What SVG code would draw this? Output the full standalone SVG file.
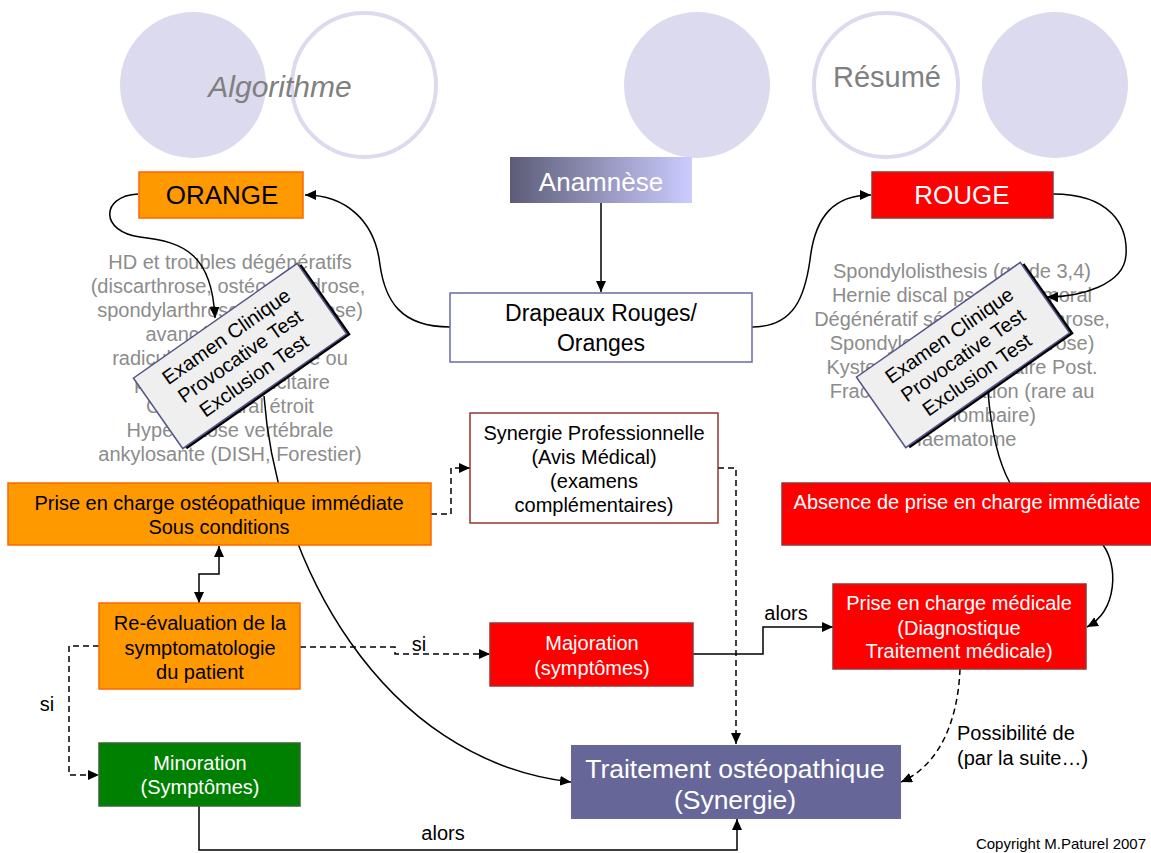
<svg xmlns="http://www.w3.org/2000/svg" width="1151" height="853" viewBox="0 0 1151 853">
<style>
text{font-family:"Liberation Sans",Arial,sans-serif}
.c{text-anchor:middle}
.w{fill:#ffffff}
.k{fill:#000000}
.g{fill:#8c8c8c;font-size:20px;text-anchor:middle}
.t20{font-size:20px}
.big{font-size:26.5px}
.ln{fill:none;stroke:#000;stroke-width:1.5}
.ds{fill:none;stroke:#000;stroke-width:1.5;stroke-dasharray:6 4}
.fill{fill:#dcdaee}
.ring{fill:none;stroke:#dcdaee;stroke-width:4}
.rot{fill:#efefef;stroke:#555588;stroke-width:1.5}
</style>
<defs>
<marker id="ah" markerUnits="userSpaceOnUse" markerWidth="12" markerHeight="10" refX="11" refY="5" orient="auto-start-reverse"><path d="M0,0 L11,5 L0,10 z" fill="#000"/></marker>
<linearGradient id="ana" x1="0" y1="0" x2="1" y2="0"><stop offset="0" stop-color="#5c5c78"/><stop offset="1" stop-color="#ccccff"/></linearGradient>
</defs>
<rect width="1151" height="853" fill="#fff"/>
<g id="decor">
<ellipse class="fill" cx="193" cy="85" rx="73" ry="73"/>
<ellipse class="ring" cx="364" cy="85" rx="72" ry="72"/>
<ellipse class="fill" cx="697" cy="85" rx="73" ry="73"/>
<ellipse class="ring" cx="886" cy="85" rx="72" ry="72"/>
<ellipse class="fill" cx="1055" cy="85" rx="73" ry="73"/>
<text x="280" y="97" class="c" style="font-size:30px;font-style:italic;fill:#808080">Algorithme</text>
<text x="887" y="87" class="c" style="font-size:29px;fill:#808080">Résumé</text>
</g>
<g id="orange-list">
<text class="g" x="230" y="269">HD et troubles dégénératifs</text>
<text class="g" x="228" y="293">(discarthrose, ostéochondrose,</text>
<text class="g" x="230" y="317">spondylarthrose, uncarthrose)</text>
<text class="g" x="230" y="341">avancés, instabilité</text>
<text class="g" x="230" y="365">radiculopathie sensitive ou</text>
<text class="g" x="232" y="389">parésie non déficitaire</text>
<text class="g" x="230" y="413">Canal central étroit</text>
<text class="g" x="230" y="437">Hyperostose vertébrale</text>
<text class="g" x="230" y="461">ankylosante (DISH, Forestier)</text>
</g>
<g id="rouge-list">
<text class="g" x="962" y="278">Spondylolisthesis (grade 3,4)</text>
<text class="g" x="962" y="302">Hernie discal pseudo-tumoral</text>
<text class="g" x="962" y="326">Dégénératif sévère (discarthrose,</text>
<text class="g" x="962" y="350">Spondylose, ostéochondrose)</text>
<text class="g" x="962" y="374">Kyste synovial articulaire Post.</text>
<text class="g" x="962" y="398">Fracture / Dislocation (rare au</text>
<text class="g" x="962" y="422">niveau lombaire)</text>
<text class="g" x="962" y="446">Haematome</text>
</g>
<g id="connectors">
<path class="ln" d="M601,203 V292" marker-end="url(#ah)"/>
<path class="ln" d="M450,327 C400,327 385,300 380,265 C375,220 345,195 305,195" marker-end="url(#ah)"/>
<path class="ln" d="M752,327 C795,327 805,295 810,260 C815,215 835,195 871,195" marker-end="url(#ah)"/>
<path class="ln" d="M138,194 C100,196 100,232 140,237 C185,242 212,255 215,318" marker-end="url(#ah)"/>
<path class="ln" d="M1053,194 C1110,194 1128,225 1126,255 C1124,285 1080,297 1047,297" marker-end="url(#ah)"/>
<path class="ln" d="M264,396 C276,560 380,760 571,782" marker-end="url(#ah)"/>
<path class="ln" d="M988,392 C992,440 1000,465 1010,483"/>
<path class="ln" d="M1103,545 C1118,565 1118,610 1087,627" marker-end="url(#ah)"/>
<path class="ln" d="M219,546 V574 H199 V603" marker-start="url(#ah)" marker-end="url(#ah)"/>
<path class="ds" d="M431,514 H451 V468 H470" marker-end="url(#ah)"/>
<path class="ds" d="M718,468 H736 V744" marker-end="url(#ah)"/>
<path class="ds" d="M300,647 H395 V654 H490" marker-end="url(#ah)"/>
<path class="ds" d="M99,646 H69 V775 H99" marker-end="url(#ah)"/>
<path class="ln" d="M693,654 H763 V627 H833" marker-end="url(#ah)"/>
<path class="ds" d="M960,669 C958,720 940,765 901,782" marker-end="url(#ah)"/>
<path class="ln" d="M199,806 V850 H737 V819" marker-end="url(#ah)"/>
<text class="k t20 c" x="419" y="651">si</text>
<text class="k t20 c" x="47" y="711">si</text>
<text class="k t20 c" x="786" y="620">alors</text>
<text class="k t20 c" x="443" y="840">alors</text>
<text class="k t20" x="957" y="740">Possibilité de</text>
<text class="k t20" x="957" y="765">(par la suite…)</text>
</g>
<g id="n-orange">
<rect x="139" y="172" width="164" height="46" fill="#ff9900" stroke="#ff6600" stroke-width="1.5"/>
<text class="k c" x="222" y="204" style="font-size:26px">ORANGE</text>
</g>
<g id="n-anamnese">
<rect x="510" y="157" width="182" height="46" fill="url(#ana)"/>
<text class="w c" x="601" y="191" style="font-size:26px">Anamnèse</text>
</g>
<g id="n-rouge">
<rect x="872" y="172" width="181" height="46" fill="#ff0000" stroke="#993333" stroke-width="1.5"/>
<text class="w c" x="962" y="204" style="font-size:26px">ROUGE</text>
</g>
<g id="n-drapeaux">
<rect x="450" y="293" width="302" height="69" fill="#fff" stroke="#6a6aa8" stroke-width="1.5"/>
<text class="k c" x="601" y="321" style="font-size:23px">Drapeaux Rouges/</text>
<text class="k c" x="601" y="351" style="font-size:23px">Oranges</text>
</g>
<g id="n-examen-left" transform="translate(240,356) rotate(-35)">
<rect x="-97" y="-40" width="200" height="86" fill="#000"/>
<rect class="rot" x="-100" y="-43" width="200" height="86"/>
<text class="k t20 c" x="0" y="-17">Examen Clinique</text>
<text class="k t20 c" x="0" y="7">Provocative Test</text>
<text class="k t20 c" x="0" y="31">Exclusion Test</text>
</g>
<g id="n-examen-right" transform="translate(963,355) rotate(-35)">
<rect x="-97" y="-40" width="200" height="86" fill="#000"/>
<rect class="rot" x="-100" y="-43" width="200" height="86"/>
<text class="k t20 c" x="0" y="-17">Examen Clinique</text>
<text class="k t20 c" x="0" y="7">Provocative Test</text>
<text class="k t20 c" x="0" y="31">Exclusion Test</text>
</g>
<g id="n-synergie">
<rect x="470" y="413" width="248" height="110" fill="#fff" stroke="#993333" stroke-width="1.5"/>
<text class="k t20 c" x="594" y="440">Synergie Professionnelle</text>
<text class="k t20 c" x="594" y="464">(Avis Médical)</text>
<text class="k t20 c" x="594" y="488">(examens</text>
<text class="k t20 c" x="594" y="512">complémentaires)</text>
</g>
<g id="n-prise-osteo">
<rect x="8" y="483" width="423" height="62" fill="#ff9900" stroke="#ff6600" stroke-width="1.5"/>
<text class="k t20 c" x="219" y="510">Prise en charge ostéopathique immédiate</text>
<text class="k t20 c" x="219" y="534">Sous conditions</text>
</g>
<g id="n-absence">
<rect x="782" y="483" width="370" height="62" fill="#ff0000" stroke="#993333" stroke-width="1.5"/>
<text class="w t20 c" x="967" y="509">Absence de prise en charge immédiate</text>
</g>
<g id="n-reeval">
<rect x="99" y="603" width="201" height="86" fill="#ff9900" stroke="#ff6600" stroke-width="1.5"/>
<text class="k t20 c" x="200" y="630">Re-évaluation de la</text>
<text class="k t20 c" x="200" y="655">symptomatologie</text>
<text class="k t20 c" x="200" y="679">du patient</text>
</g>
<g id="n-majoration">
<rect x="490" y="623" width="203" height="63" fill="#ff0000" stroke="#993333" stroke-width="1.5"/>
<text class="w t20 c" x="592" y="650">Majoration</text>
<text class="w t20 c" x="592" y="675">(symptômes)</text>
</g>
<g id="n-prise-medicale">
<rect x="833" y="584" width="253" height="85" fill="#ff0000" stroke="#993333" stroke-width="1.5"/>
<text class="w t20 c" x="959" y="610">Prise en charge médicale</text>
<text class="w t20 c" x="959" y="635">(Diagnostique</text>
<text class="w t20 c" x="959" y="658">Traitement médicale)</text>
</g>
<g id="n-minoration">
<rect x="99" y="743" width="201" height="63" fill="#008000" stroke="#336633" stroke-width="1.5"/>
<text class="w t20 c" x="200" y="770">Minoration</text>
<text class="w t20 c" x="200" y="794">(Symptômes)</text>
</g>
<g id="n-traitement">
<rect x="571" y="745" width="330" height="74" fill="#666699"/>
<text class="w big c" x="735" y="778">Traitement ostéopathique</text>
<text class="w big c" x="735" y="809">(Synergie)</text>
</g>
<text x="1146" y="849" style="font-size:15px;text-anchor:end;fill:#000">Copyright M.Paturel 2007</text>
</svg>
